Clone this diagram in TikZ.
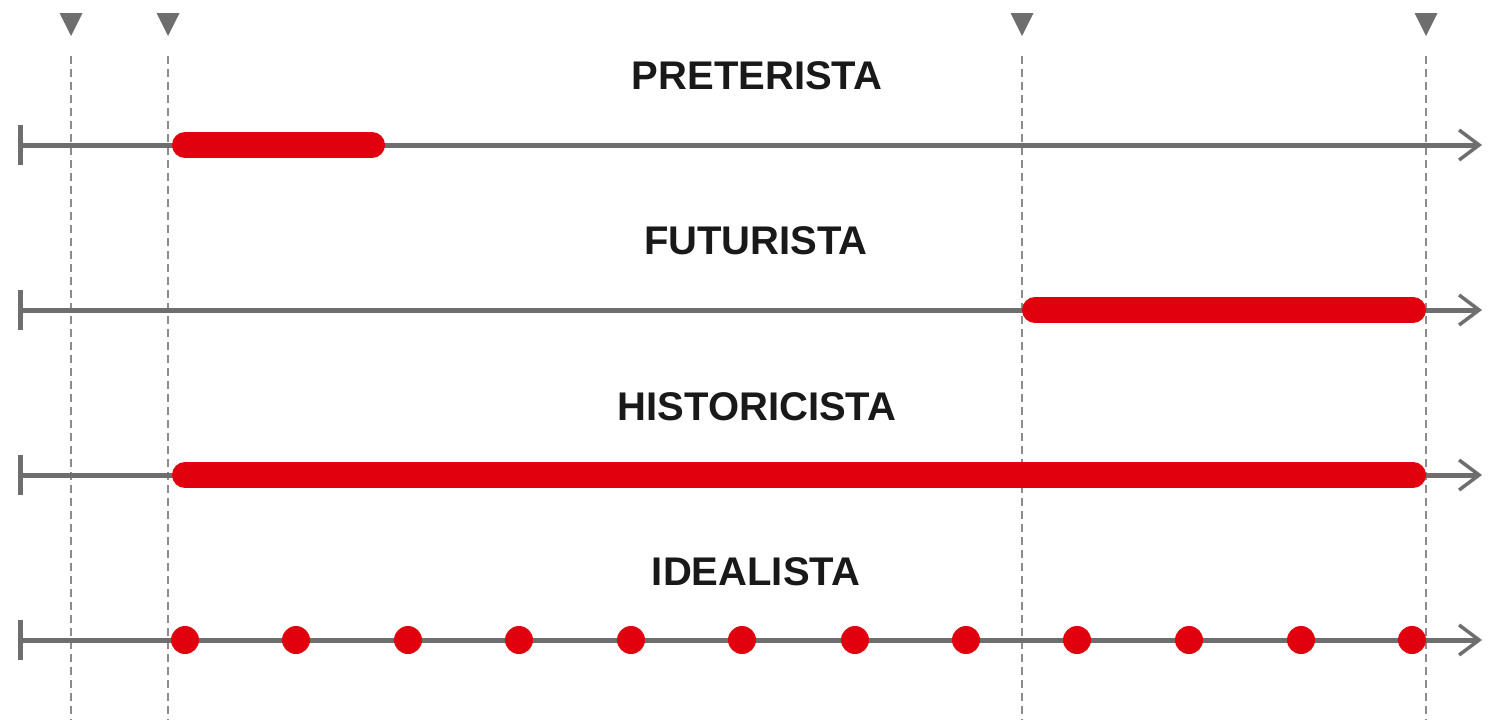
\documentclass[tikz,border=0pt]{standalone}
\usepackage{fontspec}
\setmainfont{Liberation Sans}
\usetikzlibrary{arrows.meta}
\definecolor{axisgray}{HTML}{6E6E6E}
\definecolor{dashgray}{HTML}{8C8C8C}
\definecolor{barred}{HTML}{E0000E}
\tikzset{
  axisline/.style={draw=axisgray, line width=5pt, {Bar[width=40pt,line width=5pt]}-{Straight Barb[length=20pt,width=30pt,line width=3.5pt]}},
  guide/.style={draw=dashgray, line width=1.8pt, dash pattern=on 8pt off 5pt},
  marker/.style={fill=axisgray, draw=none},
  period/.style={draw=barred, line width=26pt, line cap=round},
  dot/.style={circle, fill=barred, draw=none, minimum size=28pt, inner sep=0pt},
  title/.style={font=\bfseries\fontsize{40}{42}\selectfont, text=black!90, inner sep=0pt}
}
\begin{document}
\begin{tikzpicture}[x=1pt,y=-1pt]
\useasboundingbox (0,0) rectangle (1489,720);
% guides
\foreach \gx/\gn in {71/ga,168/gb,1022/gc,1426/gd}{
  \coordinate (\gn top) at (\gx,56);
  \coordinate (\gn bot) at (\gx,720);
  \draw[guide] (\gn top) -- (\gn bot);
  \fill[marker] (\gx-11.5,13) -- (\gx+11.5,13) -- (\gx,36) -- cycle;
}
% titles
\node[title] (tp) at (757,76) {PRETERISTA};
\node[title] (tf) at (756,241) {FUTURISTA};
\node[title] (th) at (757,407) {HISTORICISTA};
\node[title] (ti) at (756,572) {IDEALISTA};
% axes
\foreach \ay/\an in {145/p,310/f,475/h,640/i}{
  \coordinate (\an s) at (18,\ay);
  \coordinate (\an e) at (1482,\ay);
  \draw[axisline] (\an s) -- (\an e);
}
% periods
\coordinate (p1) at (185,145); \coordinate (p2) at (372,145);
\draw[period] (p1) -- (p2);
\coordinate (f1) at (1035,310); \coordinate (f2) at (1413,310);
\draw[period] (f1) -- (f2);
\coordinate (h1) at (185,475); \coordinate (h2) at (1413,475);
\draw[period] (h1) -- (h2);
% idealist dots
\foreach \dx [count=\k] in {185,296,408,519,631,742,855,966,1077,1189,1301,1412}{
  \node[dot] (d\k) at (\dx,640) {};
}
\end{tikzpicture}
\end{document}
